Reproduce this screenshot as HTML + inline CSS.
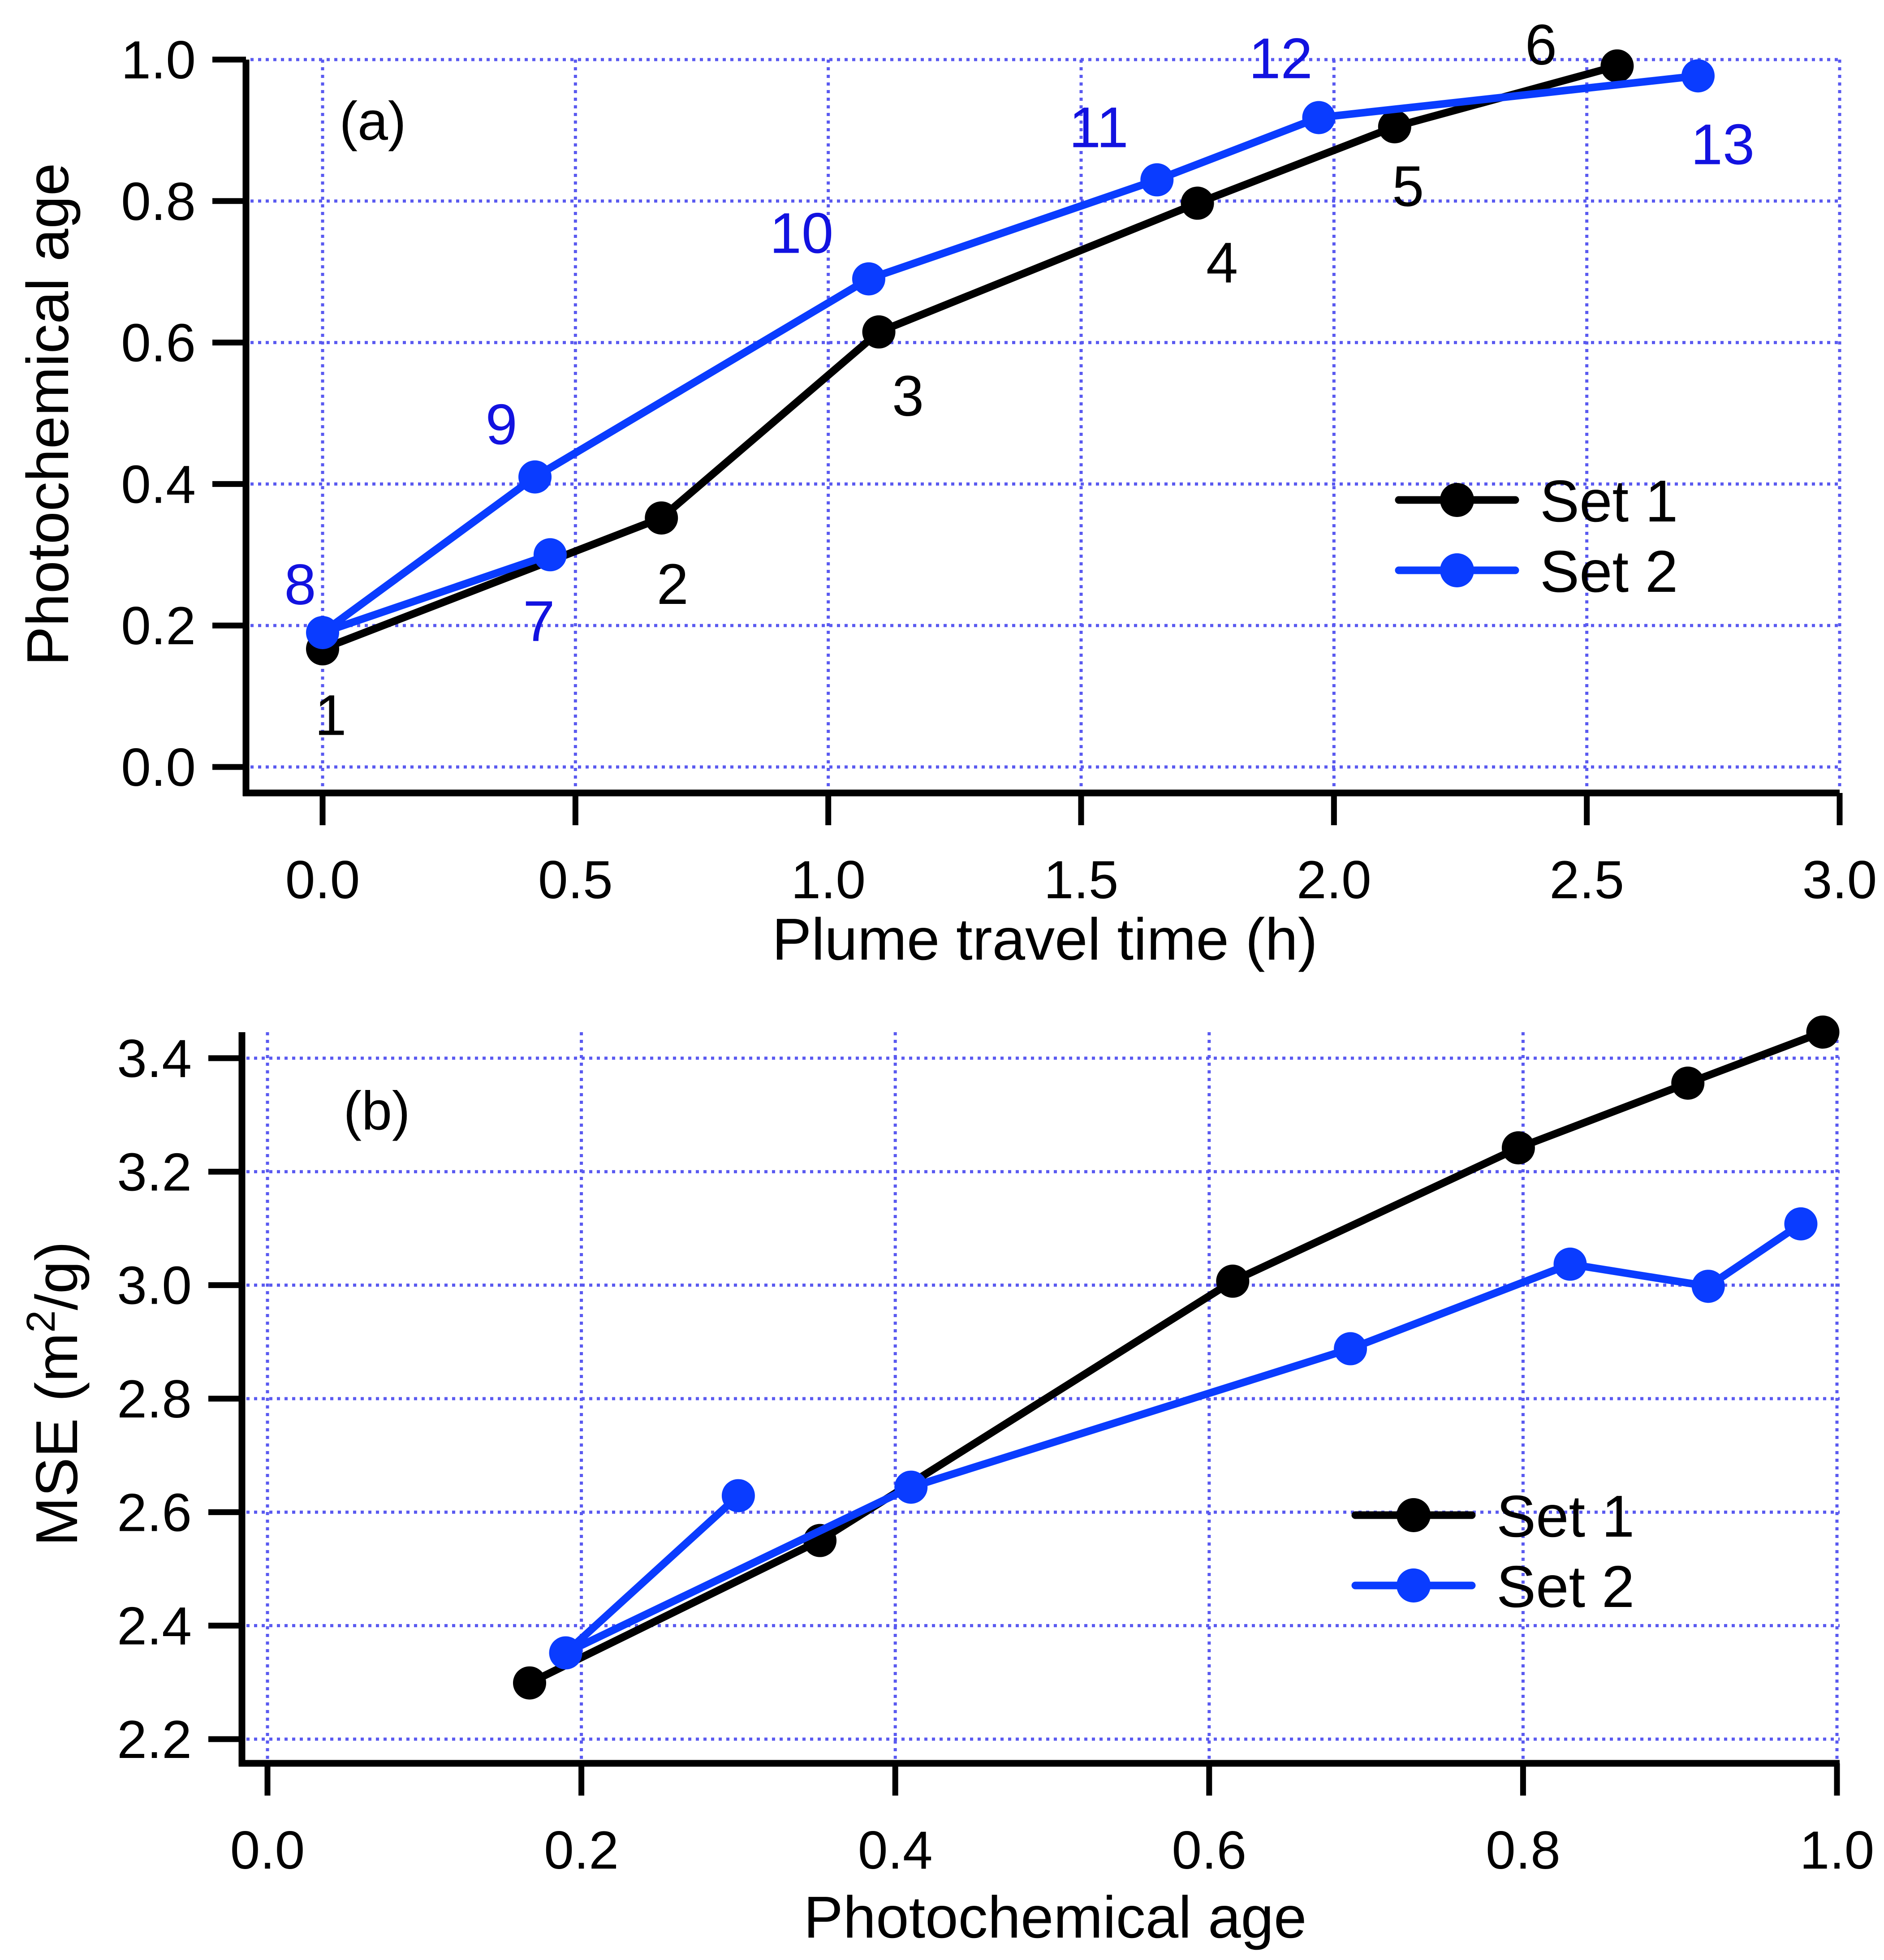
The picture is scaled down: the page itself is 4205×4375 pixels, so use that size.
<!DOCTYPE html>
<html><head><meta charset="utf-8"><style>
html,body{margin:0;padding:0;background:#fff;}
svg{display:block;font-family:"Liberation Sans",Arial,sans-serif;}
</style></head><body>
<svg id="chart" width="4205" height="4375" viewBox="0 0 4205 4375" xmlns="http://www.w3.org/2000/svg"></svg>
<script>
// Panel (a) data
const aXTicks=[0,0.5,1.0,1.5,2.0,2.5,3.0];
const aYTicks=[0,0.2,0.4,0.6,0.8,1.0];
const set1Time=[0,0.67,1.10,1.73,2.12,2.56];
const set1Age=[0.167,0.352,0.615,0.797,0.905,0.991];
const set1Labels=["1","2","3","4","5","6"];
const set2Time=[0.45,0,0.42,1.08,1.65,1.97,2.72];
const set2Age=[0.30,0.19,0.41,0.69,0.83,0.918,0.977];
const set2Labels=["7","8","9","10","11","12","13"];
// Panel (b) data
const bXTicks=[0,0.2,0.4,0.6,0.8,1.0];
const bYTicks=[2.2,2.4,2.6,2.8,3.0,3.2,3.4];
const set1MSE=[2.299,2.55,3.007,3.242,3.356,3.446];
const set2MSE=[2.629,2.352,2.644,2.888,3.037,2.998,3.108];

const NS="http://www.w3.org/2000/svg";
const svg=document.getElementById('chart');
function mk(tag,attrs,parent){const e=document.createElementNS(NS,tag);for(const k in attrs)e.setAttribute(k,attrs[k]);(parent||svg).appendChild(e);return e;}
const BLACK="#000",BLUE="#0a3cff",LBLUE="#1212e0",GRID="#5a5af0";

// label offsets (layout only) for point labels
const lab1Off=[[18,150],[25,150],[65,145],[55,135],[30,135],[-170,-45]];
const lab2Off=[[-25,150],[-50,-105],[-75,-115],[-150,-100],[-130,-115],[-85,-130],[55,155]];

function panel(o){
  const g=mk('g',{});
  
  
  const sx=v=>o.x0+(v-o.xmin)/(o.xmax-o.xmin)*(o.x1-o.x0);
  const sy=v=>o.y0+(v-o.ymin)/(o.ymax-o.ymin)*(o.y1-o.y0);
  o.xt.forEach(v=>{const l=mk('line',{x1:sx(v),x2:sx(v),y1:o.axTop,y2:o.axY-10,stroke:GRID,'stroke-width':7,'stroke-dasharray':'7 10'},g);
    });
  o.yt.forEach(v=>{const l=mk('line',{x1:o.axX+10,x2:o.axRight,y1:sy(v),y2:sy(v),stroke:GRID,'stroke-width':7,'stroke-dasharray':'7 10'},g);
    });
  const ya=mk('line',{x1:o.axX,x2:o.axX,y1:o.axTop,y2:o.axY+7,stroke:BLACK,'stroke-width':15},g);
  
  const xa=mk('line',{x1:o.axX-7,x2:o.axRight,y1:o.axY,y2:o.axY,stroke:BLACK,'stroke-width':15},g);
  
  o.yt.forEach(v=>{
    const t=mk('line',{x1:o.axX-75,x2:o.axX,y1:sy(v),y2:sy(v),stroke:BLACK,'stroke-width':13},g);
    
    const tx=mk('text',{x:o.axX-112,y:sy(v)+42,'text-anchor':'end','font-size':120,fill:BLACK},g);
    tx.textContent=v.toFixed(1);
    
  });
  o.xt.forEach(v=>{
    const t=mk('line',{x1:sx(v),x2:sx(v),y1:o.axY,y2:o.axY+72,stroke:BLACK,'stroke-width':13},g);
    
    const tx=mk('text',{x:sx(v),y:o.axY+235,'text-anchor':'middle','font-size':120,fill:BLACK},g);
    tx.textContent=v.toFixed(1);
    
  });
  const xt=mk('text',{x:o.xtX,y:o.xtY,'text-anchor':'middle','font-size':132,fill:BLACK},g);
  xt.textContent=o.xTitle;
  const yt=mk('text',{x:0,y:0,'text-anchor':'middle','font-size':132,fill:BLACK,transform:`translate(${o.ytX},${o.ytY}) rotate(-90)`},g);
  if(o.yHTML){yt.innerHTML=o.yHTML;}else yt.textContent=o.yTitle;
  
  const pl=mk('text',{x:o.plX,y:o.plY,'text-anchor':'middle','font-size':122,fill:BLACK},g);
  pl.textContent=o.panelLabel;
  function series(xs,ys,col,name){
    const pts=xs.map((x,i)=>sx(x)+','+sy(ys[i])).join(' ');
    const pl=mk('polyline',{points:pts,fill:'none',stroke:col,'stroke-width':17,'stroke-linejoin':'round'},g);
    
    xs.forEach((x,i)=>{const c=mk('circle',{cx:sx(x),cy:sy(ys[i]),r:37,fill:col},g);
      });
  }
  series(o.s1x,o.s1y,BLACK,'set-1');
  series(o.s2x,o.s2y,BLUE,'set-2');
  if(o.labels){
    o.s1x.forEach((x,i)=>{const t=mk('text',{x:sx(x)+lab1Off[i][0],y:sy(o.s1y[i])+lab1Off[i][1]+42,'text-anchor':'middle','font-size':128,fill:BLACK},g);
      t.textContent=set1Labels[i];});
    o.s2x.forEach((x,i)=>{const t=mk('text',{x:sx(x)+lab2Off[i][0],y:sy(o.s2y[i])+lab2Off[i][1]+42,'text-anchor':'middle','font-size':128,fill:LBLUE},g);
      t.textContent=set2Labels[i];});
  }
  [[BLACK,'Set 1',o.lgY],[BLUE,'Set 2',o.lgY+157]].forEach(([c,t,y])=>{
    const lg=mk('g',{},g);
    mk('line',{x1:o.lgX,x2:o.lgX+260,y1:y,y2:y,stroke:c,'stroke-width':17,'stroke-linecap':'round'},lg);
    mk('circle',{cx:o.lgX+130,cy:y,r:38,fill:c},lg);
    const tx=mk('text',{x:o.lgX+315,y:y+48,'font-size':132,fill:BLACK},lg);tx.textContent=t;
  });
}

panel({name:'panel-a',xmin:0,xmax:3,ymin:0,ymax:1,x0:720,x1:4106,y0:1712,y1:133,
  axX:549,axY:1770,axTop:133,axRight:4106,xt:aXTicks,yt:aYTicks,
  xTitle:'Plume travel time (h)',xtX:2332,xtY:2142,yTitle:'Photochemical age',ytX:152,ytY:925,
  panelLabel:'(a)',plX:832,plY:312,s1x:set1Time,s1y:set1Age,s2x:set2Time,s2y:set2Age,labels:true,lgX:3122,lgY:1116});
panel({name:'panel-b',xmin:0,xmax:1,ymin:2.2,ymax:3.4,x0:597,x1:4100,y0:3882,y1:2362,
  axX:540,axY:3936,axTop:2304,axRight:4106,xt:bXTicks,yt:bYTicks,
  xTitle:'Photochemical age',xtX:2355,xtY:4325,yHTML:'MSE (m<tspan dy="-50" font-size="90">2</tspan><tspan dy="50">/g)</tspan>',ytX:172,ytY:3111,
  panelLabel:'(b)',plX:841,plY:2521,s1x:set1Age,s1y:set1MSE,s2x:set2Age,s2y:set2MSE,labels:false,lgX:3025,lgY:3382});
</script>
</body></html>
